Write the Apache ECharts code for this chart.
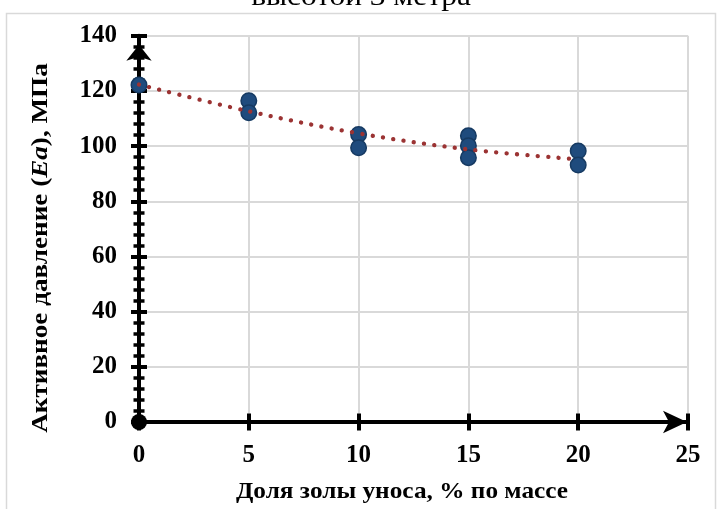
<!DOCTYPE html>
<html>
<head>
<meta charset="utf-8">
<script src="https://cdn.jsdelivr.net/npm/echarts@6/dist/echarts.min.js"></script>
<style>
  html, body { margin: 0; padding: 0; background: #fff; }
  #chart { width: 721px; height: 509px; }
</style>
</head>
<body>
<div id="chart"></div>
<script>
// Fly-ash content (% by mass) and measured active pressure Ea (MPa)
const ashShare = [0, 5, 5, 10, 10, 15, 15, 15, 20, 20];
const activePressure = [122.1, 116.4, 112.1, 104.2, 99.4, 103.7, 100.1, 95.8, 98.2, 93.1];

// Trend line through the measurement groups
const trendX = [0, 5, 10, 15, 20];
const trendY = [122.3, 112.6, 104.6, 98.8, 95.2];

const xTicks = [0, 5, 10, 15, 20, 25];
const yTicks = [0, 20, 40, 60, 80, 100, 120, 140];

const titleText = 'высотой 3 метра';
const xName = 'Доля золы уноса, % по массе';

const serif = '"Liberation Serif", "Times New Roman", serif';
const labelStyle = { fontFamily: serif, fontWeight: 'bold', fontSize: 25, color: '#000' };

const chart = echarts.init(document.getElementById('chart'), null, { renderer: 'canvas' });

const gridBox = { left: 139, right: 33, top: 35.7, bottom: 87 };

function yAxisDef(inside, main) {
  return {
    type: 'value',
    position: 'left',
    min: yTicks[0],
    max: yTicks[yTicks.length - 1],
    interval: yTicks[1] - yTicks[0],
    axisLine: main ? {
      show: true,
      lineStyle: { color: '#000', width: 4 },
      symbol: ['circle', 'arrow'],
      symbolSize: [19, 16],
      symbolOffset: [0, -9]
    } : { show: false },
    axisTick: { show: true, inside: inside, length: 8, lineStyle: { color: '#000', width: 4 } },
    minorTick: { show: true, splitNumber: 5, length: 5.5, lineStyle: { color: '#000', width: 3.5 } },
    axisLabel: main ? Object.assign({ margin: 22 }, labelStyle) : { show: false },
    splitLine: main ? { show: true, lineStyle: { color: '#d9d9d9', width: 2 } } : { show: false },
    minorSplitLine: { show: false }
  };
}

function xAxisDef(inside, main) {
  return {
    type: 'value',
    position: 'bottom',
    min: xTicks[0],
    max: xTicks[xTicks.length - 1],
    interval: xTicks[1] - xTicks[0],
    axisLine: main ? {
      show: true,
      onZero: false,
      lineStyle: { color: '#000', width: 4 },
      symbol: ['none', 'arrow'],
      symbolSize: [17, 24],
      symbolOffset: [0, -1]
    } : { show: false },
    axisTick: { show: true, inside: inside, length: 8.5, lineStyle: { color: '#000', width: 4 } },
    axisLabel: main ? Object.assign({ margin: 21 }, labelStyle) : { show: false },
    splitLine: main ? { show: true, lineStyle: { color: '#d9d9d9', width: 2 } } : { show: false }
  };
}

chart.setOption({
  backgroundColor: '#fff',
  animation: false,
  grid: gridBox,
  xAxis: [xAxisDef(false, true), xAxisDef(true, false)],
  yAxis: [yAxisDef(false, true), yAxisDef(true, false)],
  graphic: [
    {
      type: 'rect',
      z: -10,
      shape: { x: 6.5, y: 13.5, width: 709, height: 520 },
      style: { fill: 'none', stroke: '#d9d9d9', lineWidth: 1.5 }
    },
    {
      type: 'text',
      x: 361, y: 12,
      scaleX: 1.12,
      style: {
        text: titleText,
        font: '28px ' + serif,
        fill: '#000',
        align: 'center',
        verticalAlign: 'bottom'
      }
    },
    {
      type: 'text',
      x: 402, y: 492,
      scaleX: 1.1,
      style: {
        text: xName,
        font: 'bold 23px ' + serif,
        fill: '#000',
        align: 'center',
        verticalAlign: 'middle'
      }
    },
    {
      type: 'text',
      x: 41, y: 248,
      rotation: Math.PI / 2,
      scaleX: 1.18,
      style: {
        text: '{b|Активное давление (}{i|Ea}{b|), МПа}',
        align: 'center',
        verticalAlign: 'middle',
        rich: {
          b: { fontFamily: serif, fontWeight: 'bold', fontSize: 23, fill: '#000' },
          i: { fontFamily: serif, fontWeight: 'bold', fontStyle: 'italic', fontSize: 23, fill: '#000' }
        }
      }
    }
  ],
  series: [
    {
      type: 'scatter',
      xAxisIndex: 0,
      yAxisIndex: 0,
      z: 3,
      symbol: 'circle',
      symbolSize: 15.5,
      itemStyle: { color: '#1f4b7d', borderColor: '#163a62', borderWidth: 1.5, opacity: 1 },
      data: ashShare.map((x, i) => [x, activePressure[i]])
    },
    {
      type: 'line',
      xAxisIndex: 0,
      yAxisIndex: 0,
      z: 4,
      smooth: 0.35,
      symbol: 'none',
      lineStyle: { color: '#9b3333', width: 4.3, type: [0.1, 10.3], cap: 'round' },
      data: trendX.map((x, i) => [x, trendY[i]])
    }
  ]
});
</script>
</body>
</html>
